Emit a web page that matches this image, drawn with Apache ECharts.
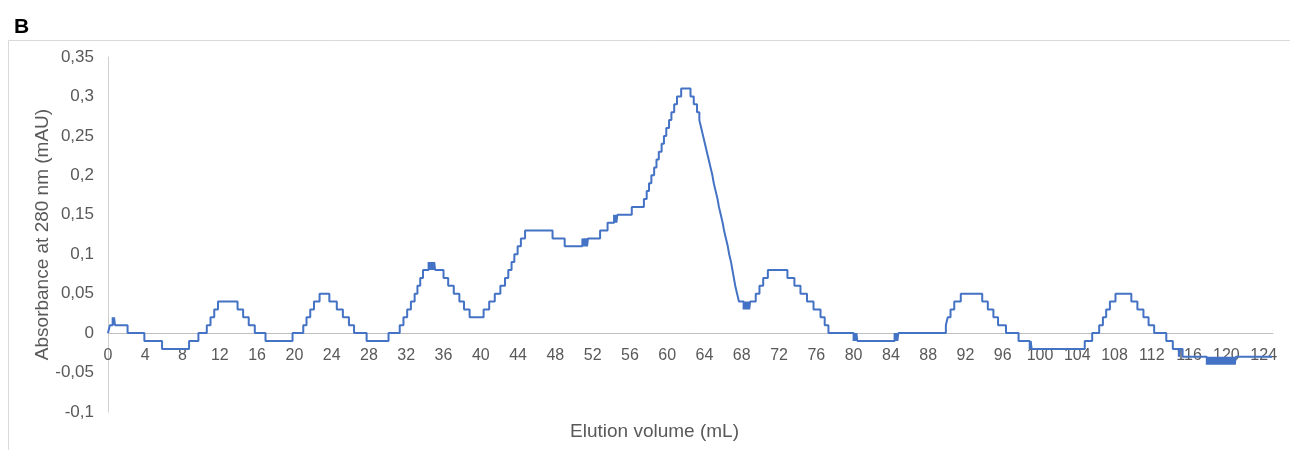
<!DOCTYPE html>
<html>
<head>
<meta charset="utf-8">
<script src="https://cdn.jsdelivr.net/npm/echarts@6/dist/echarts.min.js"></script>
<style>html,body{margin:0;padding:0;background:#fff}#c{width:1290px;height:450px}</style>
</head>
<body>
<div id="c"></div>
<script>
// Elution volume (mL) at which the recorded absorbance changes to the value below
var elutionVolume = [
  0, 0.2, 0.5, 0.6, 0.65, 0.75, 2.1, 3.9, 5.8, 8.7, 9.7,
  10.6, 11.0, 11.4, 11.8, 13.9, 14.5, 15.1, 15.75, 16.9, 19.8,
  20.95, 21.3, 21.7, 22.1, 22.7, 23.75, 24.55, 25.2, 25.85, 26.4, 27.75, 30.1,
  31.3, 31.7, 32.1, 32.5, 32.9, 33.2, 33.5, 33.8,
  34.4, 34.5, 34.6, 34.7, 34.8, 34.9, 35.0, 35.1,
  36.0, 36.5, 37.1, 37.7, 38.2, 38.8,
  40.3, 40.9, 41.5, 42.1, 42.6, 42.95, 43.3, 43.6, 43.95, 44.3, 44.75, 47.7, 49.0,
  50.9, 51.0, 51.1, 51.2, 51.3, 51.4, 51.5, 52.8, 53.6,
  54.3, 54.4, 54.5, 54.55, 54.65, 56.2,
  57.5, 57.8, 58.05, 58.3, 58.6, 58.85, 59.1, 59.4, 59.65, 59.9, 60.2, 60.45, 60.75, 61.05, 61.5,
  62.5, 62.85, 63.2, 63.45, 63.65, 63.85, 64.05, 64.25, 64.45, 64.65, 64.85, 65.0, 65.2, 65.4,
  65.55, 65.75, 65.95, 66.1, 66.3, 66.5, 66.65, 66.85, 67.0, 67.15, 67.3, 67.5, 67.7,
  68.2, 68.3, 68.4, 68.5, 68.6, 68.7, 68.8, 68.9,
  69.5, 69.9, 70.3, 70.8, 72.9, 73.65, 74.3, 75.0, 75.7, 76.45, 76.9, 77.3,
  80.0, 80.1, 80.2, 80.3, 80.4, 84.4, 84.5, 84.6, 84.7, 84.8,
  89.9, 90.1, 90.4, 90.8, 91.5, 93.8, 94.4, 95.0, 95.5, 96.35, 97.7,
  98.9, 99.0, 99.1,
  104.8, 105.6, 106.35, 106.75, 107.1, 107.5, 108.1, 109.8, 110.45, 111.1, 111.65, 112.25, 113.55, 114.25,
  114.9, 115.0, 115.3,
  117.9, 118.0, 118.1, 118.2, 118.3, 118.4, 118.5, 118.6, 118.7, 118.8, 118.9, 119.0, 119.1, 119.2, 119.3, 119.4,
  119.5, 119.6, 119.7, 119.8, 119.9, 120.0, 120.1, 120.2, 120.3, 120.4, 120.5, 120.6, 120.7, 120.8, 120.9, 121.0,
  124.9
];
// Absorbance at 280 nm (mAU)
var absorbance = [
  0, 0.01, 0.02, 0.01, 0.02, 0.01, 0, -0.01, -0.02, -0.01, 0,
  0.01, 0.02, 0.03, 0.04, 0.03, 0.02, 0.01, 0, -0.01, 0,
  0.01, 0.02, 0.03, 0.04, 0.05, 0.04, 0.03, 0.02, 0.01, 0, -0.01, 0,
  0.01, 0.02, 0.03, 0.04, 0.05, 0.06, 0.07, 0.08,
  0.09, 0.08, 0.09, 0.08, 0.09, 0.08, 0.09, 0.08,
  0.07, 0.06, 0.05, 0.04, 0.03, 0.02,
  0.03, 0.04, 0.05, 0.06, 0.07, 0.08, 0.09, 0.10, 0.11, 0.12, 0.13, 0.12, 0.11,
  0.12, 0.11, 0.12, 0.11, 0.12, 0.11, 0.12, 0.13, 0.14,
  0.15, 0.14, 0.15, 0.14, 0.15, 0.16,
  0.17, 0.18, 0.19, 0.20, 0.21, 0.22, 0.23, 0.24, 0.25, 0.26, 0.27, 0.28, 0.29, 0.30, 0.31,
  0.30, 0.29, 0.28, 0.27, 0.26, 0.25, 0.24, 0.23, 0.22, 0.21, 0.20, 0.19, 0.18, 0.17,
  0.16, 0.15, 0.14, 0.13, 0.12, 0.11, 0.10, 0.09, 0.08, 0.07, 0.06, 0.05, 0.04,
  0.03, 0.04, 0.03, 0.04, 0.03, 0.04, 0.03, 0.04,
  0.05, 0.06, 0.07, 0.08, 0.07, 0.06, 0.05, 0.04, 0.03, 0.02, 0.01, 0,
  -0.01, 0, -0.01, 0, -0.01, 0, -0.01, 0, -0.01, 0,
  0.01, 0.02, 0.03, 0.04, 0.05, 0.04, 0.03, 0.02, 0.01, 0, -0.01,
  -0.02, -0.01, -0.02,
  -0.01, 0, 0.01, 0.02, 0.03, 0.04, 0.05, 0.04, 0.03, 0.02, 0.01, 0, -0.01, -0.02,
  -0.03, -0.02, -0.03,
  -0.04, -0.03, -0.04, -0.03, -0.04, -0.03, -0.04, -0.03, -0.04, -0.03, -0.04, -0.03, -0.04, -0.03, -0.04, -0.03,
  -0.04, -0.03, -0.04, -0.03, -0.04, -0.03, -0.04, -0.03, -0.04, -0.03, -0.04, -0.03, -0.04, -0.03, -0.04, -0.03,
  -0.03
];
var xTickStep = 4;
var yTicks = { min: -0.1, max: 0.35, step: 0.05 };
var panelLabel = 'B';
var xTitle = 'Elution volume (mL)';
var yTitle = 'Absorbance at 280 nm (mAU)';

var seriesData = elutionVolume.map(function (v, i) { return [v, absorbance[i]]; });
var FONT = '"Liberation Sans", Arial, sans-serif';
var GRID_TOP = 57, GRID_H = 355;
// shift the x axis (line, labels, title) up to where y = 0 sits
var zeroOffset = -Math.round(GRID_H * (0 - yTicks.min) / (yTicks.max - yTicks.min));
var chart = echarts.init(document.getElementById('c'), null, { renderer: 'canvas' });
chart.setOption({
  animation: false,
  backgroundColor: '#ffffff',
  title: {
    text: panelLabel, left: 9, top: 12,
    textStyle: { fontFamily: FONT, fontWeight: 'bold', fontSize: 21, color: '#000000' }
  },
  graphic: [{
    type: 'rect', silent: true, z: -1,
    shape: { x: 8.5, y: 40.5, width: 1300, height: 430 },
    style: { fill: null, stroke: '#D9D9D9', lineWidth: 1 }
  }],
  grid: { left: 108, right: 17, top: GRID_TOP, height: GRID_H, containLabel: false, outerBoundsMode: 'none' },
  xAxis: {
    type: 'value', min: 0, max: 125, interval: xTickStep,
    offset: zeroOffset,
    name: xTitle, nameLocation: 'middle', nameGap: 89, nameMoveOverlap: false,
    nameTextStyle: { fontFamily: FONT, fontSize: 19, color: '#595959', padding: [0, 72, 0, 0] },
    axisLine: { onZero: false, lineStyle: { color: '#BFBFBF', width: 1 } },
    axisTick: { show: false },
    splitLine: { show: false },
    axisLabel: {
      fontFamily: FONT, fontSize: 16, color: '#595959', margin: 15,
      formatter: function (v) { return (Math.round(v) % xTickStep === 0) ? String(Math.round(v)) : ''; }
    }
  },
  yAxis: {
    type: 'value', min: yTicks.min, max: yTicks.max, interval: yTicks.step,
    name: yTitle, nameLocation: 'middle', nameGap: 56, nameMoveOverlap: false,
    nameTextStyle: { fontFamily: FONT, fontSize: 19, color: '#595959' },
    axisLine: { show: true, lineStyle: { color: '#D0D0D0', width: 1 } },
    axisTick: { show: false },
    splitLine: { show: false },
    axisLabel: {
      fontFamily: FONT, fontSize: 17, color: '#595959', margin: 14,
      formatter: function (v) { return String(+v.toFixed(2)).replace('.', ','); }
    }
  },
  series: [{
    type: 'line', step: 'end', data: seriesData, showSymbol: false,
    lineStyle: { color: '#4472C4', width: 2 }, itemStyle: { color: '#4472C4' }
  }]
});
</script>
</body>
</html>
